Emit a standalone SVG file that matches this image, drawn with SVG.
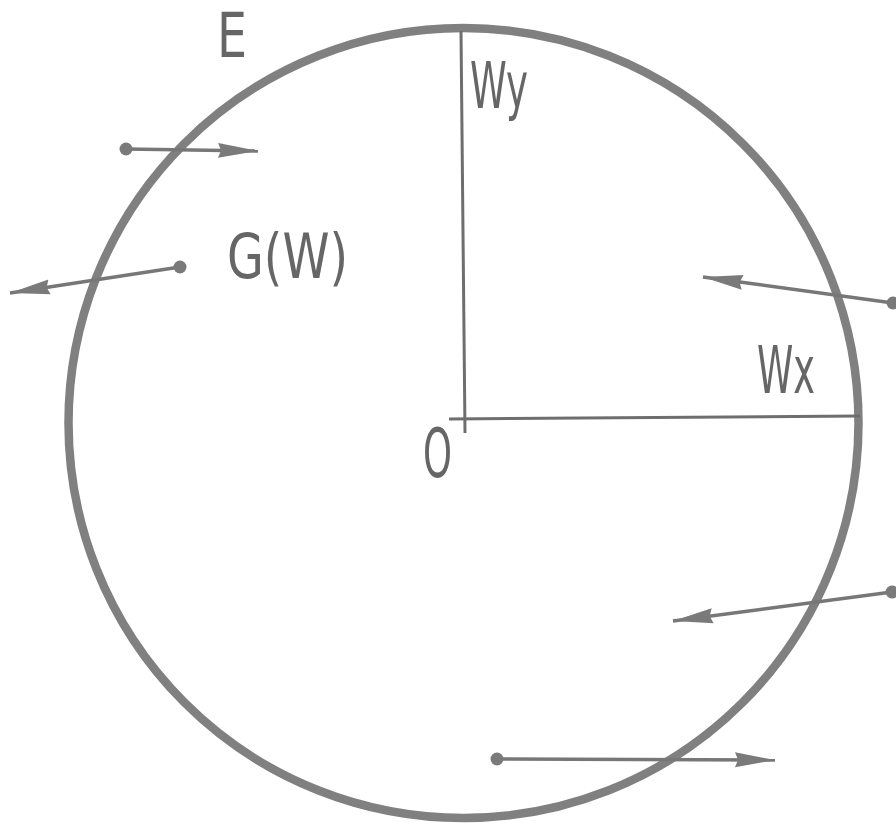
<svg xmlns="http://www.w3.org/2000/svg" width="896" height="825" viewBox="0 0 896 825">
<defs>
<style>
.lbl{font-family:"Liberation Sans Narrow","DejaVu Sans Condensed","Liberation Sans",sans-serif;fill:#666;}
.axis{stroke:#6e6e6e;stroke-width:3;fill:none;}
.vec{stroke:#777;stroke-width:3.5;fill:none;marker-end:url(#ah);}
.dot{fill:#7a7a7a;}
</style>
<marker id="ah" markerUnits="userSpaceOnUse" markerWidth="44" markerHeight="18" refX="40" refY="8" orient="auto">
<path d="M0,0.5 L40,8 L0,15.5 L3,8 Z" fill="#7a7a7a"/>
</marker>
</defs>
<rect width="896" height="825" fill="#fff"/>
<g id="circle-E">
<circle cx="463.5" cy="423" r="395" fill="none" stroke="#808080" stroke-width="8.5"/>
<text class="lbl" x="217" y="57" font-size="63" textLength="30" lengthAdjust="spacingAndGlyphs">E</text>
</g>
<g id="axes">
<line class="axis" x1="461" y1="31" x2="465" y2="433"/>
<line class="axis" x1="449" y1="419" x2="860" y2="416"/>
<text class="lbl" x="470" y="108" font-size="64" textLength="58" lengthAdjust="spacingAndGlyphs">Wy</text>
<text class="lbl" x="757" y="393" font-size="66" textLength="58" lengthAdjust="spacingAndGlyphs">Wx</text>
<text class="lbl" x="423" y="477" font-size="68" textLength="29" lengthAdjust="spacingAndGlyphs">O</text>
</g>
<g id="label-G">
<text class="lbl" x="227" y="278" font-size="62" textLength="121" lengthAdjust="spacingAndGlyphs">G(W)</text>
</g>
<g id="connectors">
<line class="vec" x1="126" y1="149" x2="258" y2="151"/>
<line class="vec" x1="180" y1="267" x2="10" y2="293"/>
<line class="vec" x1="893" y1="303" x2="703" y2="277"/>
<line class="vec" x1="892" y1="592" x2="673" y2="621"/>
<line class="vec" x1="497" y1="759" x2="775" y2="760"/>
<circle class="dot" cx="126" cy="149" r="6.5"/>
<circle class="dot" cx="180" cy="267" r="6.5"/>
<circle class="dot" cx="893" cy="303" r="6.5"/>
<circle class="dot" cx="892" cy="592" r="6.5"/>
<circle class="dot" cx="497" cy="759" r="6.5"/>
</g>
</svg>
